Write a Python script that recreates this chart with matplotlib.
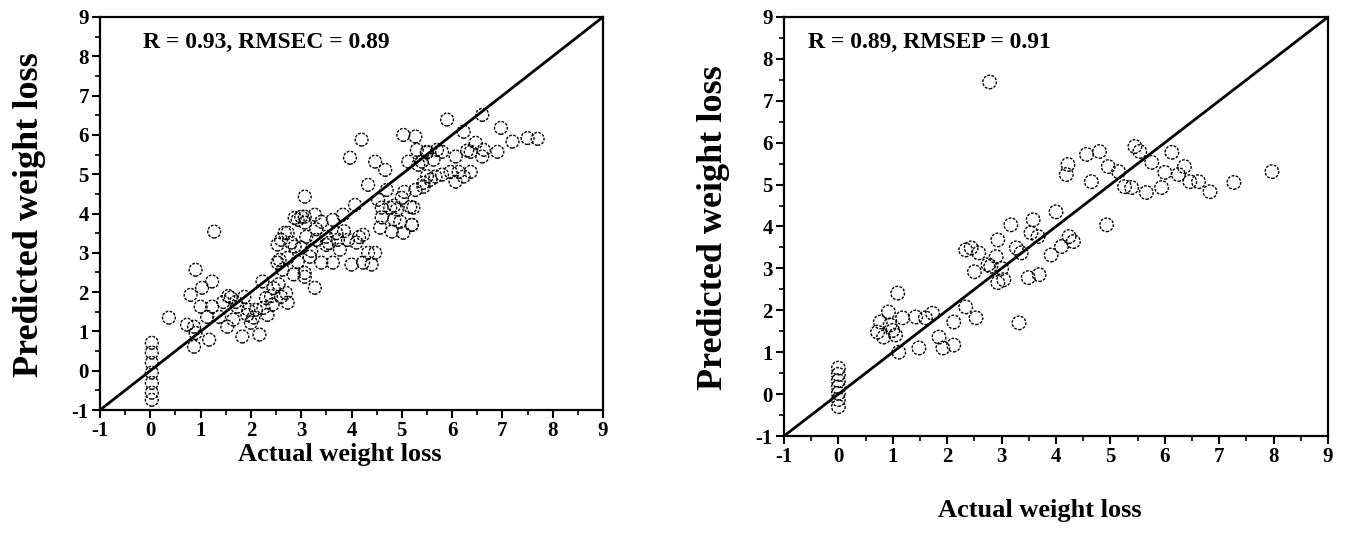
import matplotlib
matplotlib.use("Agg")
import matplotlib.pyplot as plt
from matplotlib.ticker import MultipleLocator

plt.rcParams['font.family'] = ['Liberation Serif', 'DejaVu Serif']
plt.rcParams['font.weight'] = 'bold'
plt.rcParams['axes.unicode_minus'] = False

# ---------------- data: calibration (left) ----------------
cal_actual = [
    0.03, 0.03, 0.03, 0.03, 0.03, 0.03, 0.03,
    1.27, 0.90, 1.23, 1.03, 0.80, 0.37, 0.73, 0.87, 1.00, 1.23, 1.37, 1.13, 0.90, 0.87, 1.17,
    1.60, 1.87, 1.73, 1.53, 1.93, 2.10, 2.33, 1.83, 2.17, 2.00, 2.23, 2.60, 2.73, 2.43,
    2.53, 2.73, 2.63, 2.93, 3.07, 2.60, 2.73, 2.93, 3.07, 2.87,
    4.20, 3.97, 4.47, 4.67, 4.33, 4.70, 5.03, 5.27, 5.30, 5.50, 5.13, 5.33, 5.70, 5.67, 5.43,
    5.27, 3.07, 4.07, 4.53, 4.77, 4.90, 5.17, 3.83, 3.63, 3.27, 3.00, 2.87, 3.07, 3.40,
    4.57, 4.80, 5.03, 5.20, 4.97, 2.67, 2.80, 3.10, 3.30, 3.50, 3.73, 3.93, 4.10, 4.23,
    2.53, 2.57, 3.00, 3.17, 3.40, 3.63, 3.77, 4.00, 4.23, 4.40, 4.47, 4.33, 3.07, 3.27, 2.70,
    5.90, 6.60, 6.97, 7.20, 7.50, 7.70, 6.23, 6.47, 6.37, 6.63, 6.90, 6.60, 6.07, 5.80,
    5.50, 5.63, 5.40, 5.97, 5.80, 6.13, 6.37, 6.23, 6.07, 5.57, 5.43, 5.23, 5.20,
    1.45, 1.65, 2.30, 2.45, 2.85, 3.20, 3.55, 3.85, 4.15, 4.60, 4.85, 5.05,
    1.55, 1.70, 1.95, 2.05, 2.25, 2.40, 2.55, 3.30, 3.50, 3.70, 4.60, 4.85, 5.00, 5.50, 6.30,
]
cal_pred = [
    0.71, 0.46, 0.20, -0.05, -0.31, -0.56, -0.74,
    3.54, 2.57, 2.27, 2.11, 1.93, 1.35, 1.17, 1.12, 1.63, 1.63, 1.37, 1.37, 0.96, 0.61, 0.79,
    1.86, 1.88, 1.63, 1.12, 1.42, 1.55, 1.42, 0.87, 0.92, 1.22, 2.27, 1.88, 1.73, 1.68,
    2.75, 2.87, 2.57, 2.77, 2.39, 3.33, 3.51, 3.84, 3.92, 3.16,
    5.88, 5.42, 5.32, 5.11, 4.73, 4.60, 6.00, 5.96, 5.62, 5.55, 5.32, 5.24, 5.62, 4.94, 4.78,
    4.60, 4.43, 4.22, 4.35, 4.15, 4.10, 4.17, 3.97, 3.84, 3.97, 3.92, 3.89, 3.77, 3.79,
    3.64, 3.54, 3.51, 3.71, 3.79, 3.51, 3.26, 3.41, 3.33, 3.41, 3.33, 3.33, 3.26, 3.46,
    3.21, 2.82, 3.13, 2.90, 2.75, 2.75, 3.08, 2.70, 2.75, 2.70, 3.00, 3.00, 2.49, 2.11, 1.98,
    6.39, 6.51, 6.18, 5.83, 5.92, 5.90, 6.08, 5.80, 5.57, 5.62, 5.57, 5.45, 5.45, 5.57,
    5.57, 5.37, 5.32, 5.06, 4.99, 5.06, 5.06, 4.94, 4.81, 4.86, 4.68, 4.15, 3.71,
    1.75, 1.30, 1.85, 2.10, 2.45, 3.05, 3.25, 3.55, 3.40, 3.90, 4.20, 4.55,
    1.90, 1.75, 1.55, 1.35, 1.60, 1.90, 2.20, 3.60, 3.20, 3.50, 4.15, 3.85, 4.40, 4.95, 5.60,
]

# ---------------- data: prediction (right) ----------------
pre_actual = [
    0.0, 0.0, 0.0, 0.0, 0.0, 0.0, 0.0,
    1.09, 0.92, 1.18, 1.42, 1.73, 1.60, 0.77, 0.72, 0.83, 1.05, 1.11, 1.48, 1.92, 2.12,
    1.85, 2.12, 2.53, 2.34, 2.50, 0.95, 1.00,
    4.22, 4.19, 4.56, 4.65, 4.96, 5.15, 5.26, 4.93, 4.00, 3.58, 3.17, 2.93, 3.54, 3.67,
    3.27, 3.36, 2.90, 2.58, 2.44, 2.34, 2.75, 3.04, 2.93, 3.49, 3.69, 3.91, 4.10, 4.32,
    4.24, 3.32,
    7.97, 7.27, 6.83, 6.62, 6.46, 6.36, 6.25, 5.94, 6.00, 6.13, 5.66, 5.39, 5.45, 5.54,
    5.76, 4.80, 2.78, 3.00, 2.80,
]
pre_pred = [
    0.62, 0.47, 0.32, 0.17, 0.02, -0.13, -0.30,
    2.41, 1.96, 1.82, 1.84, 1.93, 1.82, 1.72, 1.48, 1.36, 1.41, 1.00, 1.10, 1.10, 1.17,
    1.36, 1.72, 1.82, 2.08, 2.92, 1.65, 1.52,
    5.48, 5.24, 5.72, 5.07, 5.43, 5.31, 4.95, 4.04, 4.35, 4.16, 4.04, 3.68, 3.85, 3.76,
    3.49, 3.37, 3.28, 3.37, 3.49, 3.44, 3.09, 2.73, 2.66, 2.78, 2.85, 3.32, 3.52, 3.64,
    3.76, 1.70,
    5.31, 5.05, 4.83, 5.07, 5.07, 5.43, 5.24, 4.93, 5.29, 5.77, 4.81, 4.93, 5.91, 5.79,
    5.53, 5.79, 7.45, 3.00, 3.05,
]

ticks = list(range(-1, 10))
cal_text = "R = 0.93, RMSEC = 0.89"
pre_text = "R = 0.89, RMSEP = 0.91"
xlab = "Actual weight loss"
ylab = "Predicted weight loss"

W, H = 1346, 533
fig = plt.figure(figsize=(W / 100, H / 100), dpi=100)


def px_axes(l, t, r, b):
    return fig.add_axes([l / W, 1 - b / H, (r - l) / W, (b - t) / H])


def style(ax):
    ax.set_xlim(-1, 9)
    ax.set_ylim(-1, 9)
    ax.set_xticks(ticks)
    ax.set_yticks(ticks)
    ax.xaxis.set_minor_locator(MultipleLocator(0.5))
    ax.yaxis.set_minor_locator(MultipleLocator(0.5))
    ax.tick_params(which='major', direction='out', length=6, width=1.5,
                   labelsize=15, pad=2, top=False, right=False)
    ax.tick_params(which='minor', direction='out', length=3.5, width=1.2,
                   top=False, right=False)
    for lab in ax.get_xticklabels() + ax.get_yticklabels():
        lab.set_fontweight('bold')
    for s in ax.spines.values():
        s.set_linewidth(1.6)
    ax.plot([-1, 9], [-1, 9], color='black', lw=2.0, zorder=3)


ax1 = px_axes(100, 17, 603, 410)
style(ax1)
ax1.scatter(cal_actual, cal_pred, s=85, facecolors='none', edgecolors='black',
            linewidths=1.0, linestyles=(0, (2, 1)), zorder=2)
ax1.text(0.085, 0.936, cal_text, transform=ax1.transAxes, fontsize=17,
         fontweight='bold', va='center', ha='left')

ax2 = px_axes(784, 17, 1328, 436)
style(ax2)
ax2.scatter(pre_actual, pre_pred, s=95, facecolors='none', edgecolors='black',
            linewidths=1.0, linestyles=(0, (2, 1)), zorder=2)
ax2.text(0.044, 0.94, pre_text, transform=ax2.transAxes, fontsize=17,
         fontweight='bold', va='center', ha='left')

fig.text(340 / W, 1 - 455 / H, xlab, fontsize=19, fontweight='bold', ha='center', va='center')
fig.text(1040 / W, 1 - 510 / H, xlab, fontsize=19, fontweight='bold', ha='center', va='center')
fig.text(30 / W, 1 - 215 / H, ylab, fontsize=26, fontweight='bold', ha='center', va='center',
         rotation=90)
fig.text(713 / W, 1 - 228 / H, ylab, fontsize=26, fontweight='bold', ha='center', va='center',
         rotation=90)

fig.savefig("out.png", dpi=100)
